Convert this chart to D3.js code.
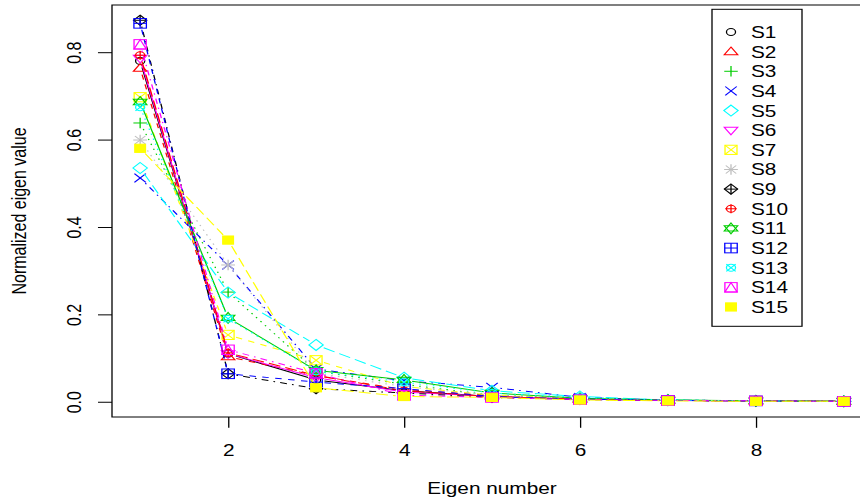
<!DOCTYPE html>
<html><head><meta charset="utf-8">
<script src="https://cdn.jsdelivr.net/npm/d3@7"></script>
<style>
body{margin:0;background:#fff}
svg{display:block}
text{font-family:"Liberation Sans",Arial,sans-serif;}
</style></head>
<body><svg id="c" width="860" height="502"></svg>
<script>
// ---- data ----
const eigenNumbers = [1,2,3,4,5,6,7,8,9];
const seriesNames = ["S1","S2","S3","S4","S5","S6","S7","S8","S9","S10","S11","S12","S13","S14","S15"];
const S1  = [0.780,0.110,0.050,0.025,0.012,0.006,0.003,0.002,0.001];
const S2  = [0.763,0.103,0.060,0.028,0.014,0.006,0.003,0.002,0.001];
const S3  = [0.638,0.251,0.070,0.040,0.015,0.008,0.004,0.002,0.001];
const S4  = [0.512,0.313,0.075,0.048,0.033,0.010,0.004,0.002,0.001];
const S5  = [0.535,0.250,0.130,0.055,0.025,0.012,0.004,0.002,0.001];
const S6  = [0.786,0.110,0.055,0.022,0.012,0.006,0.003,0.002,0.001];
const S7  = [0.697,0.153,0.095,0.035,0.015,0.006,0.003,0.002,0.001];
const S8  = [0.599,0.313,0.065,0.035,0.015,0.007,0.003,0.002,0.001];
const S9  = [0.873,0.064,0.030,0.020,0.010,0.005,0.003,0.002,0.001];
const S10 = [0.793,0.112,0.060,0.025,0.012,0.006,0.003,0.002,0.001];
const S11 = [0.686,0.192,0.072,0.050,0.020,0.008,0.004,0.002,0.001];
const S12 = [0.866,0.064,0.045,0.030,0.012,0.006,0.003,0.002,0.001];
const S13 = [0.674,0.190,0.070,0.045,0.020,0.010,0.004,0.002,0.001];
const S14 = [0.818,0.119,0.065,0.015,0.010,0.005,0.003,0.002,0.001];
const S15 = [0.580,0.370,0.032,0.012,0.010,0.004,0.002,0.001,0.001];
const seriesValues = [S1,S2,S3,S4,S5,S6,S7,S8,S9,S10,S11,S12,S13,S14,S15];
const seriesColors = ["#000000","#FF0000","#00CD00","#0000FF","#00FFFF","#FF00FF","#FFFF00","#BEBEBE",
                      "#000000","#FF0000","#00CD00","#0000FF","#00FFFF","#FF00FF","#FFFF00"];
const xTickValues = [2,4,6,8];
const yTickValues = [0,0.2,0.4,0.6,0.8];
const xTitle = "Eigen number";
const yTitle = "Normalized eigen value";

// ---- layout ----
const SX = 1.3;
const svg = d3.select("#c");
const root = svg.append("g").attr("transform", `scale(${SX},1)`);
const L = 112/SX, R = 872/SX, T = 5, B = 417;
const x = d3.scaleLinear().domain([0.68, 9.32]).range([L, R]);
const y = d3.scaleLinear().domain([-0.0349, 0.908]).range([B, T]);
const dashes = [null, "5,5", "1.3,4", "1.3,4,5.3,4", "9.3,4"];
const GAP = 6.5;

function pch(g, k, col) {
  const line = (x1,y1,x2,y2) => g.append("line").attr("x1",x1).attr("y1",y1).attr("x2",x2).attr("y2",y2);
  const poly = pts => g.append("polygon").attr("points", pts.map(p=>p.join(",")).join(" "));
  const circ = r => g.append("circle").attr("r", r);
  const sq = h => g.append("rect").attr("x",-h).attr("y",-h).attr("width",2*h).attr("height",2*h);
  const plus = a => { line(-a,0,a,0); line(0,-a,0,a); };
  const times = a => { line(-a,-a,a,a); line(-a,a,a,-a); };
  const tri = (s) => poly([[0,-4.6*s],[5.2,3.0*s],[-5.2,3.0*s]]);
  switch (k) {
    case 1: circ(3.5); break;
    case 2: tri(1); break;
    case 3: plus(5.2); break;
    case 4: times(4.4); break;
    case 5: poly([[0,-5.5],[5.5,0],[0,5.5],[-5.5,0]]); break;
    case 6: tri(-1); break;
    case 7: sq(4.6); times(4.6); break;
    case 8: plus(5.3); times(4.0); break;
    case 9: poly([[0,-5.1],[5.1,0],[0,5.1],[-5.1,0]]); plus(5.1); break;
    case 10: circ(3.5); plus(4.5); break;
    case 11: poly([[0,-5.4],[5.2,2.7],[-5.2,2.7]]); poly([[0,5.4],[5.2,-2.7],[-5.2,-2.7]]); break;
    case 12: sq(4.8); plus(4.8); break;
    case 13: circ(3.5); times(3.6); break;
    case 14: sq(4.7); poly([[0,-4.7],[4.7,4.7],[-4.7,4.7]]); break;
    case 15: sq(4.1).attr("fill", col); break;
  }
  g.selectAll("*").attr("stroke", col).attr("stroke-width", 1);
  g.selectAll("circle,polygon").attr("fill","none");
  g.selectAll("rect").attr("fill", k===15 ? col : "none");
}

// ---- series ----
seriesValues.forEach((vals, i) => {
  const col = seriesColors[i];
  let d = "";
  for (let j = 0; j < vals.length - 1; j++) {
    const x1 = x(eigenNumbers[j]), y1 = y(vals[j]);
    const x2 = x(eigenNumbers[j+1]), y2 = y(vals[j+1]);
    const dx = x2-x1, dy = y2-y1, dist = Math.hypot(dx, dy);
    if (dist > 2*GAP) {
      const f = GAP/dist;
      d += `M${x1+dx*f},${y1+dy*f}L${x2-dx*f},${y2-dy*f}`;
    }
  }
  root.append("path").attr("d", d).attr("fill","none").attr("stroke", col)
      .attr("stroke-width", 1).attr("stroke-dasharray", dashes[i % 5]);
  vals.forEach((v, j) => {
    const g = root.append("g").attr("transform", `translate(${x(eigenNumbers[j])},${y(v)})`);
    pch(g, i+1, col);
  });
});

// ---- box & axes ----
root.append("rect").attr("x", L).attr("y", T).attr("width", R-L).attr("height", B-T)
    .attr("fill","none").attr("stroke","#000").attr("stroke-width",1);

const gx = root.append("g").attr("transform", `translate(0,${B})`)
  .call(d3.axisBottom(x).tickValues(xTickValues).tickFormat(d3.format("d"))
        .tickSize(10.8).tickSizeOuter(0).tickPadding(17));
gx.select(".domain").remove();
gx.attr("font-size", 16).attr("font-family", "Liberation Sans, Arial, sans-serif").attr("color", "#000");

const gy = root.append("g").attr("transform", `translate(${L},0)`)
  .call(d3.axisLeft(y).tickValues(yTickValues).tickFormat(d3.format(".1f"))
        .tickSize(10.8).tickSizeOuter(0));
gy.select(".domain").remove();
gy.attr("font-size", 16).attr("font-family", "Liberation Sans, Arial, sans-serif").attr("color", "#000");
gy.selectAll(".tick text").attr("x", null).attr("dy", null)
  .attr("text-anchor", "middle")
  .attr("transform", `translate(${81/SX - L},0) rotate(-90)`);

root.append("text").attr("x", (L+R)/2).attr("y", 494).attr("text-anchor","middle")
    .attr("font-size", 16).attr("fill","#000").text(xTitle);
root.append("text").attr("transform", `translate(${26/SX},${(T+B)/2}) rotate(-90)`)
    .attr("text-anchor","middle").attr("font-size", 16).attr("fill","#000").text(yTitle);

// ---- legend ----
const lg = root.append("g");
lg.append("rect").attr("x", 712/SX).attr("y", 9.3).attr("width", 90/SX).attr("height", 317)
  .attr("fill","#fff").attr("stroke","#000").attr("stroke-width",1);
seriesNames.forEach((name, i) => {
  const cy = 32 + i*19.64;
  const g = lg.append("g").attr("transform", `translate(${731/SX},${cy})`);
  pch(g, i+1, seriesColors[i]);
  lg.append("text").attr("x", 751/SX).attr("y", cy + 6).attr("font-size", 16)
    .attr("fill","#000").text(name);
});
</script></body></html>
